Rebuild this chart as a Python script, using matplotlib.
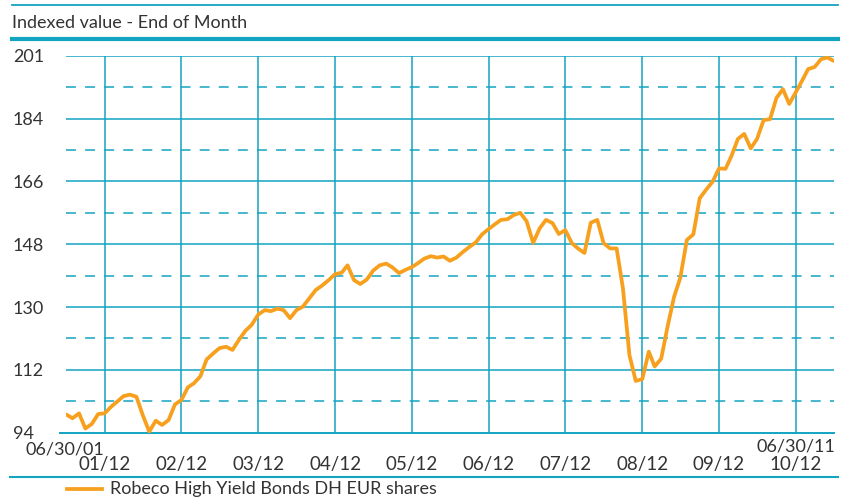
import matplotlib
matplotlib.use("Agg")
import matplotlib.pyplot as plt
from matplotlib.lines import Line2D
import pandas as pd

plt.rcParams['font.family'] = ['Lato', 'DejaVu Sans']

# ---- data -------------------------------------------------------------
chart_title = "Indexed value - End of Month"
series_name = "Robeco High Yield Bonds DH EUR shares"
start_date = "2001-06-30"

# month-end index values, 06/30/01 .. 06/30/11
index_values = [
    99.2, 98.1, 99.5, 95.2, 96.5, 99.3, 99.5, 101.4, 102.8, 104.4,
    104.8, 104.2, 99.0, 94.3, 97.4, 96.2, 97.6, 102.0, 103.3, 106.9,
    108.0, 110.0, 114.8, 116.5, 118.0, 118.4, 117.5, 120.3, 122.9, 124.6,
    127.5, 128.8, 128.5, 129.2, 128.8, 126.5, 128.8, 129.8, 132.2, 134.5,
    135.8, 137.3, 139.0, 139.4, 141.5, 137.3, 136.2, 137.5, 140.0, 141.5,
    142.0, 140.9, 139.3, 140.2, 141.0, 142.2, 143.4, 144.1, 143.7, 144.0,
    142.8, 143.7, 145.3, 146.7, 148.0, 150.3, 151.8, 153.2, 154.4, 154.6,
    155.8, 156.4, 154.0, 147.9, 152.0, 154.4, 153.5, 150.4, 151.5, 147.8,
    146.3, 145.0, 153.6, 154.4, 147.8, 146.3, 146.3, 135.0, 116.0, 108.7,
    109.2, 117.0, 112.8, 115.0, 124.0, 132.5, 138.0, 148.7, 150.3, 160.5,
    163.0, 165.2, 169.0, 168.9, 172.5, 177.4, 178.8, 174.7, 177.4, 182.7,
    183.0, 189.0, 191.5, 187.3, 190.6, 194.0, 197.2, 197.8, 200.0, 200.5,
    199.5,
]

y_ticks = [94, 111.83, 129.67, 147.5, 165.33, 183.17, 201]
y_tick_labels = ["94", "112", "130", "148", "166", "184", "201"]

year_end_dates = ["2001-12-31", "2002-12-31", "2003-12-31", "2004-12-31",
                  "2005-12-31", "2006-12-31", "2007-12-31", "2008-12-31",
                  "2009-12-31", "2010-12-31"]
year_end_labels = ["01/12", "02/12", "03/12", "04/12", "05/12",
                   "06/12", "07/12", "08/12", "09/12", "10/12"]
range_labels = ["06/30/01", "06/30/11"]

# ---- style ------------------------------------------------------------
TEAL = "#13A4C1"
ORANGE = "#F7A01E"
TEXT = "#333333"
FS = 13

W, H = 844, 499
fig = plt.figure(figsize=(W / 100, H / 100), dpi=100)

def fx(px):
    return px / W

def fy(py):
    return 1 - py / H

left_px, right_px, top_px, bottom_px = 66, 833.8, 55.7, 432.7
ax = fig.add_axes([fx(left_px), fy(bottom_px),
                   fx(right_px - left_px), (bottom_px - top_px) / H])

dates = pd.date_range(start_date, periods=len(index_values), freq="ME")
ax.set_xlim(dates[0], dates[-1])
ax.set_ylim(y_ticks[0], y_ticks[-1])

for s in ax.spines.values():
    s.set_visible(False)

# horizontal grid: solid at ticks, dashed half-way between
for i, y in enumerate(y_ticks):
    if i == 0:
        ax.axhline(y, xmin=-6 / (right_px - left_px), xmax=1,
                   color=TEAL, lw=1.4, clip_on=False, zorder=2)
    else:
        ax.axhline(y, color=TEAL, lw=1.1, zorder=1)
    if i > 0:
        mid = (y_ticks[i - 1] + y) / 2
        ax.axhline(mid, color=TEAL, lw=1.1, ls=(0, (6.5, 6)), zorder=1)

# vertical grid at year ends
year_ends = pd.to_datetime(year_end_dates)
for d in year_ends:
    ax.axvline(d, color=TEAL, lw=1.1, zorder=1)

ax.plot(dates, index_values, color=ORANGE, lw=2.7, zorder=3,
        solid_joinstyle="round", solid_capstyle="round")

# y labels, left-aligned in the margin
ax.set_yticks(y_ticks, y_tick_labels)
ax.tick_params(axis="y", length=0, pad=(left_px - 13) * 0.72,
               labelsize=FS, labelcolor=TEXT)
for lbl in ax.get_yticklabels():
    lbl.set_horizontalalignment("left")

# x labels: year ends on the lower row
ax.set_xticks(year_ends, year_end_labels)
ax.tick_params(axis="x", length=0, pad=17, labelsize=13.5, labelcolor=TEXT)

# start / end dates on the upper row
ax.annotate(range_labels[0], xy=(dates[0], 0),
            xycoords=("data", "axes fraction"), xytext=(-1, -6),
            textcoords="offset points", ha="center", va="top",
            fontsize=FS, color=TEXT)
ax.annotate(range_labels[1], xy=(dates[-1], 0),
            xycoords=("data", "axes fraction"), xytext=(1, -4),
            textcoords="offset points", ha="right", va="top",
            fontsize=FS, color=TEXT)

# header rules and title
fig.add_artist(Line2D([fx(12), fx(838)], [fy(5), fy(5)], color=TEAL, lw=1.3))
fig.text(fx(12), fy(23), chart_title, ha="left", va="center",
         fontsize=FS, color=TEXT)
fig.add_artist(Line2D([fx(12), fx(838)], [fy(38.5), fy(38.5)], color=TEAL, lw=3.0))

# footer rule and legend
fig.add_artist(Line2D([fx(10), fx(838)], [fy(477), fy(477)], color=TEAL, lw=1.5))
fig.add_artist(Line2D([fx(67), fx(102)], [fy(489), fy(489)], color=ORANGE, lw=2.7))
fig.text(fx(110), fy(489), series_name, ha="left", va="center",
         fontsize=FS, color=TEXT)

fig.savefig("out.png", dpi=100)
